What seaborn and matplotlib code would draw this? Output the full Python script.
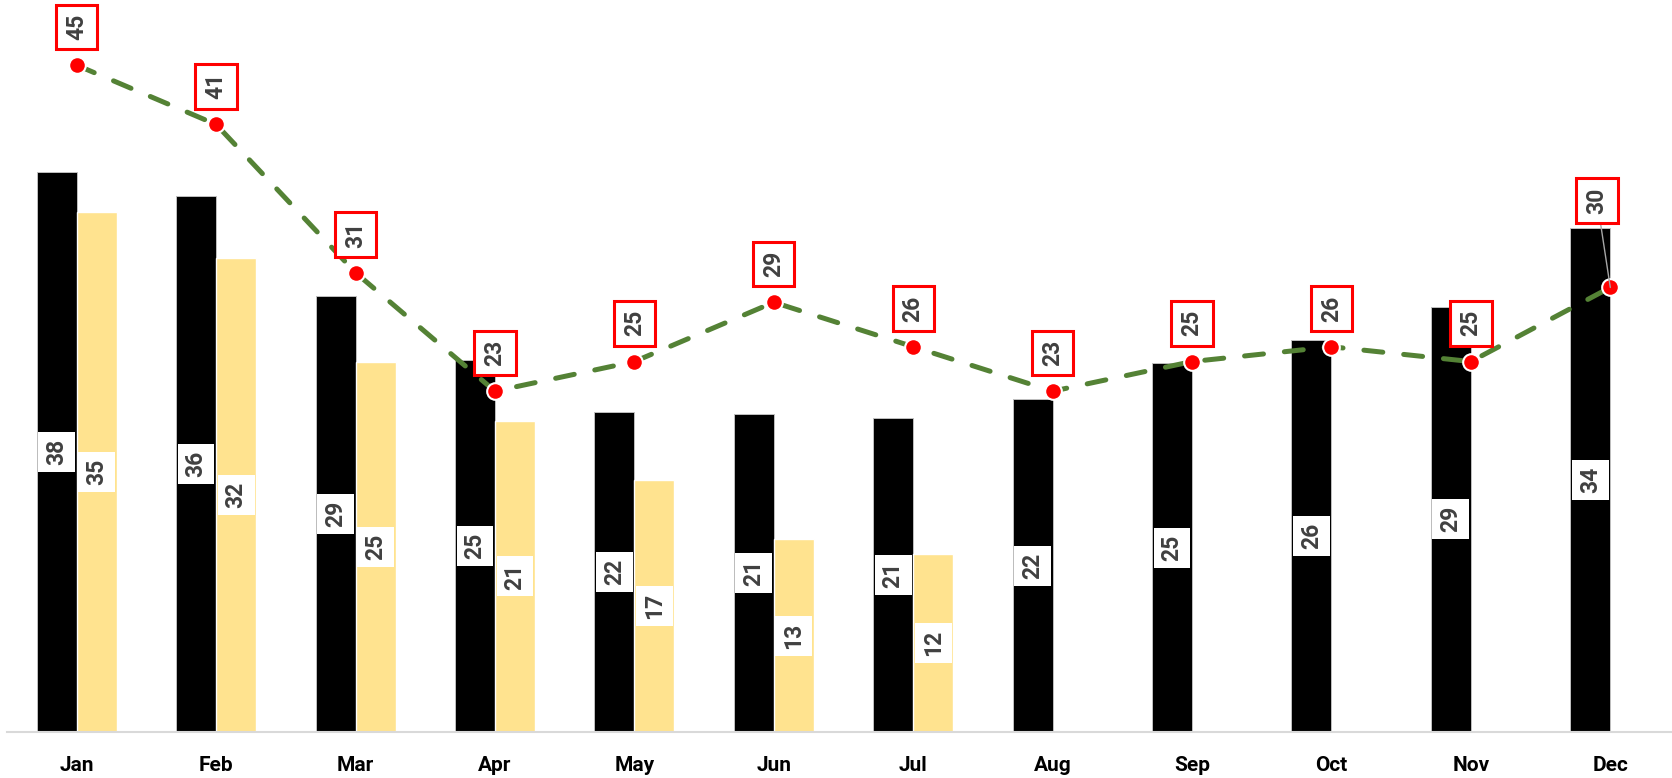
import numpy as np
import pandas as pd
import matplotlib
matplotlib.use("Agg")
import matplotlib.pyplot as plt
import seaborn as sns

# ---- data ----
months = ['Jan', 'Feb', 'Mar', 'Apr', 'May', 'Jun', 'Jul', 'Aug', 'Sep', 'Oct', 'Nov', 'Dec']
black_vals = [37.8, 36.2, 29.4, 25.1, 21.6, 21.45, 21.2, 22.45, 24.9, 26.45, 28.7, 34.0]
yellow_vals = [35.1, 32.0, 25.0, 21.0, 17.0, 13.0, 12.0, np.nan, np.nan, np.nan, np.nan, np.nan]
line_vals = [45, 41, 31, 23, 25, 29, 26, 23, 25, 26, 25, 30]

BLACK = '#000000'
YELLOW = '#FFE38F'
GREEN = '#548235'
RED = '#FF0000'
TXT = '#404040'

sns.set_style('white')
plt.rcParams['font.family'] = ['Roboto', 'DejaVu Sans']

bars = pd.DataFrame({
    'month': months * 2,
    'value': black_vals + yellow_vals,
    'series': ['A'] * 12 + ['B'] * 12,
})
line = pd.DataFrame({'month': months, 'value': line_vals})

fig = plt.figure(figsize=(16.72, 7.78), dpi=100)
ax = fig.add_axes([7 / 1672, 46 / 778, 1673 / 1672, 732 / 778])

sns.barplot(data=bars, x='month', y='value', hue='series', order=months,
            palette=[BLACK, YELLOW], saturation=1, width=0.574, dodge=True,
            errorbar=None, legend=False, ax=ax, zorder=2)

# thin grey outline on the black bars only
for p in ax.containers[0]:
    p.set_edgecolor('#bfbfbf')
    p.set_linewidth(0.7)

sns.pointplot(data=line, x='month', y='value', order=months, color=GREEN,
              markers='o', errorbar=None, ax=ax)
ln = ax.lines[-1]
ln.set_linewidth(3.6)
ln.set_linestyle((0, (3.8, 4.2)))
ln.set_dash_capstyle('round')
ln.set_markersize(12)
ln.set_markerfacecolor(RED)
ln.set_markeredgecolor('white')
ln.set_markeredgewidth(1.5)
ln.set_zorder(5)
for c in ax.collections:
    c.set_visible(False)

FS = 16.5
# bar value labels, centred in each bar
for cont in ax.containers:
    for p in cont:
        h = p.get_height()
        if np.isnan(h) or h == 0:
            continue
        ax.text(p.get_x() + p.get_width() / 2, h / 2, f'{h:.0f}', rotation=90,
                ha='center', va='center', fontsize=FS, fontweight='bold',
                color=TXT, zorder=4,
                bbox=dict(boxstyle='square,pad=0.3', fc='white', ec='none'))

# line value labels in red boxes above the points
for i, v in enumerate(line_vals):
    if i == len(line_vals) - 1:
        ax.annotate(f'{v}', xy=(i, v), xytext=(-9.5, 62.5), textcoords='offset points',
                    rotation=90, ha='center', va='center', fontsize=FS,
                    fontweight='bold', color=TXT, zorder=6,
                    bbox=dict(boxstyle='square,pad=0.4', fc='white', ec=RED, lw=2.2),
                    arrowprops=dict(arrowstyle='-', color='#a6a6a6', lw=1,
                                    shrinkA=0, shrinkB=0))
    else:
        ax.annotate(f'{v}', xy=(i, v), xytext=(0, 27.5), textcoords='offset points',
                    rotation=90, ha='center', va='center', fontsize=FS,
                    fontweight='bold', color=TXT, zorder=6,
                    bbox=dict(boxstyle='square,pad=0.4', fc='white', ec=RED, lw=2.2))

ax.set_ylim(0, 49.4)
ax.set_xlim(-0.5, 11.5)
ax.set_xlabel('')
ax.set_ylabel('')
ax.set_yticks([])
ax.tick_params(axis='x', length=0, pad=17, labelsize=15)
for lab in ax.get_xticklabels():
    lab.set_fontweight('bold')
    lab.set_color('black')
for s in ['left', 'top', 'right']:
    ax.spines[s].set_visible(False)
ax.spines['bottom'].set_color('#d9d9d9')
ax.spines['bottom'].set_linewidth(1.5)

fig.savefig('out.png', dpi=100)
